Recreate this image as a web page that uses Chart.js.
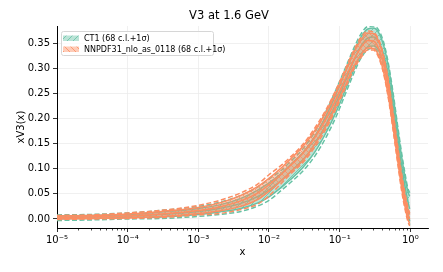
<!DOCTYPE html>
<html>
<head>
<meta charset="utf-8">
<script src="https://cdn.jsdelivr.net/npm/chart.js@4"></script>
<style>
  html, body { margin: 0; padding: 0; background: #fff; }
  #wrap { width: 443px; height: 272px; }
</style>
</head>
<body>
<div id="wrap"><canvas id="chart" width="443" height="272"></canvas></div>
<script>
// x grid the curves are sampled on
const xGrid = [1e-5, 3e-5, 1e-4, 3e-4, 1e-3, 2e-3, 4e-3, 7e-3, 0.01, 0.015, 0.02, 0.03, 0.045, 0.065, 0.09,
  0.12, 0.16, 0.2, 0.25, 0.3, 0.36, 0.43, 0.5, 0.58, 0.66, 0.75, 0.84, 0.92, 0.98];

// CT1
const ct1Central = [0.003, 0.004, 0.006, 0.009, 0.015, 0.021, 0.031, 0.045, 0.058, 0.077, 0.093, 0.117, 0.150, 0.190, 0.232,
  0.274, 0.316, 0.344, 0.360, 0.362, 0.352, 0.322, 0.278, 0.220, 0.163, 0.108, 0.066, 0.036, 0.020];
const ct1Upper68 = [0.006, 0.007, 0.009, 0.014, 0.021, 0.028, 0.041, 0.058, 0.072, 0.091, 0.108, 0.132, 0.166, 0.207, 0.250,
  0.292, 0.334, 0.362, 0.378, 0.380, 0.370, 0.340, 0.296, 0.238, 0.181, 0.126, 0.084, 0.056, 0.045];
const ct1Lower68 = [0.000, 0.001, 0.003, 0.004, 0.009, 0.014, 0.021, 0.032, 0.044, 0.063, 0.078, 0.102, 0.134, 0.173, 0.214,
  0.256, 0.298, 0.326, 0.342, 0.344, 0.334, 0.304, 0.260, 0.202, 0.145, 0.090, 0.048, 0.016, -0.005];
const ct1Upper1s = [0.008, 0.009, 0.012, 0.017, 0.025, 0.033, 0.047, 0.064, 0.079, 0.097, 0.114, 0.139, 0.174, 0.216, 0.259,
  0.300, 0.341, 0.368, 0.383, 0.384, 0.375, 0.346, 0.302, 0.244, 0.187, 0.133, 0.091, 0.062, 0.052];
const ct1Lower1s = [-0.003, -0.002, 0.000, 0.001, 0.005, 0.009, 0.015, 0.026, 0.037, 0.057, 0.072, 0.095, 0.126, 0.164, 0.205,
  0.248, 0.291, 0.320, 0.337, 0.340, 0.329, 0.298, 0.254, 0.196, 0.139, 0.083, 0.041, 0.010, -0.012];

// NNPDF31_nlo_as_0118
const nnCentral = [0.003, 0.004, 0.006, 0.010, 0.017, 0.024, 0.036, 0.052, 0.068, 0.089, 0.106, 0.130, 0.163, 0.200, 0.240,
  0.279, 0.318, 0.341, 0.355, 0.354, 0.338, 0.300, 0.250, 0.188, 0.130, 0.075, 0.036, 0.010, 0.000];
const nnUpper68 = [0.006, 0.007, 0.010, 0.015, 0.023, 0.032, 0.047, 0.065, 0.081, 0.102, 0.119, 0.144, 0.177, 0.214, 0.254,
  0.293, 0.332, 0.356, 0.370, 0.369, 0.352, 0.314, 0.264, 0.201, 0.142, 0.086, 0.047, 0.020, 0.009];
const nnLower68 = [0.000, 0.001, 0.002, 0.005, 0.011, 0.016, 0.025, 0.039, 0.055, 0.076, 0.093, 0.116, 0.149, 0.186, 0.226,
  0.265, 0.304, 0.326, 0.340, 0.339, 0.324, 0.286, 0.236, 0.175, 0.118, 0.064, 0.025, 0.000, -0.009];
const nnUpper1s = [0.007, 0.008, 0.012, 0.017, 0.027, 0.037, 0.052, 0.070, 0.088, 0.107, 0.123, 0.148, 0.182, 0.219, 0.259,
  0.298, 0.337, 0.361, 0.374, 0.372, 0.356, 0.318, 0.268, 0.206, 0.147, 0.092, 0.052, 0.025, 0.012];
const nnLower1s = [-0.001, 0.000, 0.001, 0.003, 0.008, 0.011, 0.019, 0.030, 0.046, 0.071, 0.089, 0.112, 0.144, 0.181, 0.221,
  0.260, 0.299, 0.321, 0.336, 0.336, 0.320, 0.282, 0.232, 0.170, 0.113, 0.058, 0.020, -0.004, -0.014];

const seriesNames = ['CT1 (68 c.l.+1σ)', 'NNPDF31_nlo_as_0118 (68 c.l.+1σ)'];
const chartTitle = 'V3 at 1.6 GeV';

// ticks
const xMajorTicks = [1e-5, 1e-4, 1e-3, 1e-2, 1e-1, 1];
const xTickLabels = ['10⁻⁵', '10⁻⁴', '10⁻³', '10⁻²', '10⁻¹', '10⁰'];
const yTickValues = [0, 0.05, 0.1, 0.15, 0.2, 0.25, 0.3, 0.35];
const yTickLabels = ['0.00', '0.05', '0.10', '0.15', '0.20', '0.25', '0.30', '0.35'];

const FONT = 'DejaVu Sans';
const TEAL = '#66c2a5', ORANGE = '#fc8d62';

// minor ticks 2..9 in every decade
const xAllTicks = [];
xMajorTicks.forEach((m, i) => {
  xAllTicks.push({ value: m, major: true });
  if (i < xMajorTicks.length - 1) {
    for (let k = 2; k <= 9; k++) xAllTicks.push({ value: +(m * k).toPrecision(6), major: false });
  }
});

function hatch(rgb, dir) {
  const c = document.createElement('canvas');
  c.width = 6; c.height = 6;
  const g = c.getContext('2d');
  g.fillStyle = `rgba(${rgb},0.45)`;
  g.fillRect(0, 0, 6, 6);
  g.strokeStyle = `rgba(${rgb},0.8)`;
  g.lineWidth = 1;
  g.beginPath();
  if (dir > 0) {
    g.moveTo(-1, 7); g.lineTo(7, -1);
    g.moveTo(-4, 4); g.lineTo(4, -4);
    g.moveTo(2, 10); g.lineTo(10, 2);
  } else {
    g.moveTo(-1, -1); g.lineTo(7, 7);
    g.moveTo(-4, 2); g.lineTo(4, 10);
    g.moveTo(2, -4); g.lineTo(10, 4);
  }
  g.stroke();
  return g.createPattern(c, 'repeat');
}

const tealHatch = hatch('102,194,165', 1);
const orangeHatch = hatch('252,141,98', -1);

const pts = arr => xGrid.map((x, i) => ({ x: x, y: arr[i] }));

function setDatasets(color, pattern, order, up68, lo68, cen, up1, lo1) {
  const base = { borderColor: color, pointRadius: 0, borderWidth: 1.5, order: order,
    cubicInterpolationMode: 'monotone', fill: false };
  return [
    Object.assign({}, base, { data: pts(up68), fill: '+1', backgroundColor: pattern }),
    Object.assign({}, base, { data: pts(lo68) }),
    Object.assign({}, base, { data: pts(cen) }),
    Object.assign({}, base, { data: pts(up1), borderDash: [5, 2.5] }),
    Object.assign({}, base, { data: pts(lo1), borderDash: [5, 2.5] })
  ];
}

const datasets = [].concat(
  setDatasets(TEAL, tealHatch, 2, ct1Upper68, ct1Lower68, ct1Central, ct1Upper1s, ct1Lower1s),
  setDatasets(ORANGE, orangeHatch, 1, nnUpper68, nnLower68, nnCentral, nnUpper1s, nnLower1s)
);

// short minor tick marks under the x axis
const minorTicks = {
  id: 'minorTicks',
  afterDraw(chart) {
    const xs = chart.scales.x, ctx = chart.ctx, y0 = chart.chartArea.bottom;
    ctx.save();
    ctx.strokeStyle = '#000';
    ctx.lineWidth = 0.7;
    xs.ticks.forEach(t => {
      if (t.major) return;
      const px = Math.round(xs.getPixelForValue(t.value)) + 0.5;
      ctx.beginPath();
      ctx.moveTo(px, y0);
      ctx.lineTo(px, y0 + 2.5);
      ctx.stroke();
    });
    ctx.restore();
  }
};

// title, placed a little right of the canvas centre like the original
const titleText = {
  id: 'titleText',
  afterDraw(chart) {
    const ctx = chart.ctx;
    ctx.save();
    ctx.font = `11.5px "${FONT}"`;
    ctx.fillStyle = '#000';
    ctx.textAlign = 'center';
    ctx.textBaseline = 'middle';
    ctx.fillText(chartTitle, 229, 16.5);
    ctx.restore();
  }
};

// legend box in the upper left of the plot
const legendBox = {
  id: 'legendBox',
  afterDraw(chart) {
    const ctx = chart.ctx;
    const patches = [tealHatch, orangeHatch];
    ctx.save();
    const x = 61.5, y = 31.5, w = 152, h = 24, r = 2;
    ctx.beginPath();
    ctx.moveTo(x + r, y);
    ctx.arcTo(x + w, y, x + w, y + h, r);
    ctx.arcTo(x + w, y + h, x, y + h, r);
    ctx.arcTo(x, y + h, x, y, r);
    ctx.arcTo(x, y, x + w, y, r);
    ctx.closePath();
    ctx.fillStyle = 'rgba(255,255,255,0.8)';
    ctx.fill();
    ctx.strokeStyle = '#d6d6d6';
    ctx.lineWidth = 1;
    ctx.stroke();
    ctx.font = `8px "${FONT}"`;
    ctx.textBaseline = 'middle';
    seriesNames.forEach((name, i) => {
      const ty = 35.5 + i * 11;
      ctx.fillStyle = patches[i];
      ctx.fillRect(63, ty, 16, 5.5);
      ctx.fillStyle = '#000';
      ctx.fillText(name, 84, ty + 3);
    });
    ctx.restore();
  }
};

new Chart(document.getElementById('chart'), {
  type: 'line',
  data: { datasets: datasets },
  plugins: [minorTicks, titleText, legendBox],
  options: {
    responsive: false,
    animation: false,
    devicePixelRatio: 1,
    layout: { padding: { left: 0, right: 15, top: 26, bottom: 0 } },
    plugins: {
      legend: { display: false },
      tooltip: { enabled: false },
      title: { display: false }
    },
    scales: {
      x: {
        type: 'logarithmic', min: 1e-5, max: 1.78,
        afterBuildTicks: s => { s.ticks = xAllTicks.map(t => ({ value: t.value, major: t.major })); },
        afterFit: s => { s.height = 44; },
        border: { color: '#000', width: 1 },
        grid: {
          color: c => (c.tick && xMajorTicks.includes(c.tick.value)) ? '#ececec' : 'rgba(0,0,0,0)',
          tickColor: c => (c.tick && xMajorTicks.includes(c.tick.value)) ? '#000' : 'rgba(0,0,0,0)',
          tickLength: 4, lineWidth: 0.8
        },
        ticks: {
          autoSkip: false, maxRotation: 0, padding: 2, color: '#000',
          font: { family: FONT, size: 10 },
          callback: v => {
            const i = xMajorTicks.indexOf(v);
            return i >= 0 ? xTickLabels[i] : '';
          }
        },
        title: {
          display: true, text: 'x', color: '#000',
          font: { family: FONT, size: 10 },
          padding: { top: 0, bottom: 14 }
        }
      },
      y: {
        min: -0.018, max: 0.384,
        afterBuildTicks: s => { s.ticks = yTickValues.map(v => ({ value: v })); },
        afterFit: s => { s.width = 57; },
        border: { color: '#000', width: 1 },
        grid: { color: '#ececec', tickColor: '#000', tickLength: 4, lineWidth: 0.8 },
        ticks: {
          padding: 3, color: '#000',
          font: { family: FONT, size: 10 },
          callback: (v, i) => yTickLabels[i]
        },
        title: {
          display: true, text: 'xV3(x)', color: '#000',
          font: { family: FONT, size: 10 },
          padding: { top: 15, bottom: 0 }
        }
      }
    }
  }
});
</script>
</body>
</html>
